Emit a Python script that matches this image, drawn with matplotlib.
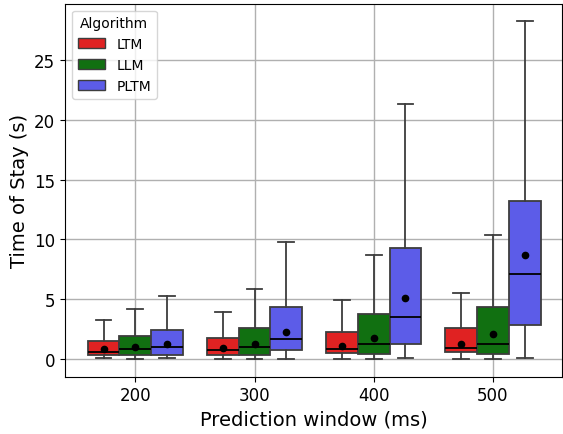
import numpy as np
import matplotlib
matplotlib.use("Agg")
import matplotlib.pyplot as plt
from matplotlib.patches import Patch

# данные
windows = ["200", "300", "400", "500"]
algorithms = ["LTM", "LLM", "PLTM"]
colors = ["#e02222", "#117011", "#5c5ce8"]

# [окно][алгоритм]
whislo = [[0.06, 0.03, 0.08], [0.03, 0.03, 0.03], [0.0, 0.03, 0.08], [0.03, 0.03, 0.11]]
q1 = [[0.33, 0.33, 0.36], [0.33, 0.36, 0.75], [0.47, 0.45, 1.28], [0.56, 0.39, 2.87]]
med = [[0.56, 0.81, 0.98], [0.72, 0.98, 1.67], [0.81, 1.23, 3.48], [0.95, 1.28, 7.08]]
q3 = [[1.53, 1.90, 2.40], [1.76, 2.56, 4.38], [2.26, 3.76, 9.26], [2.56, 4.38, 13.18]]
whishi = [[3.29, 4.20, 5.27], [3.90, 5.83, 9.80], [4.96, 8.70, 21.30], [5.55, 10.34, 28.30]]
means = [[0.81, 0.98, 1.23], [0.92, 1.28, 2.23], [1.11, 1.73, 5.13], [1.25, 2.06, 8.72]]

fig = plt.figure(figsize=(5.63, 4.35), dpi=100)
ax = fig.add_axes([65 / 563, 57.3 / 435, 497 / 563, 373 / 435])

width = 0.8 / len(algorithms)
for j, alg in enumerate(algorithms):
    stats = []
    for i in range(len(windows)):
        stats.append(dict(whislo=whislo[i][j], q1=q1[i][j], med=med[i][j], q3=q3[i][j],
                          whishi=whishi[i][j], mean=means[i][j], fliers=[]))
    pos = np.arange(len(windows)) + (j - 1) * width
    ax.bxp(stats, positions=pos, widths=width, patch_artist=True, showmeans=True,
           manage_ticks=False,
           boxprops=dict(facecolor=colors[j], edgecolor="#3d3d3d", linewidth=1.3),
           medianprops=dict(color="black", linewidth=1.3),
           whiskerprops=dict(color="#3d3d3d", linewidth=1.3),
           capprops=dict(color="#3d3d3d", linewidth=1.3),
           meanprops=dict(marker="o", markerfacecolor="black", markeredgecolor="black", markersize=4.5))

ax.set_xticks(np.arange(len(windows)))
ax.set_xticklabels(windows)
ax.set_xlim(-0.59, 3.58)
ax.set_ylim(-1.48, 29.72)
ax.set_yticks([0, 5, 10, 15, 20, 25])
ax.tick_params(labelsize=12)
ax.grid(True, color="#b0b0b0", linewidth=1)
ax.set_axisbelow(True)
ax.set_xlabel("Prediction window (ms)", fontsize=14)
ax.set_ylabel("Time of Stay (s)", fontsize=14)

handles = [Patch(facecolor=c, edgecolor="#3d3d3d", label=a) for a, c in zip(algorithms, colors)]
ax.legend(handles=handles, title="Algorithm", loc="upper left", fontsize=10, title_fontsize=10)

fig.savefig("out.png", dpi=100)
